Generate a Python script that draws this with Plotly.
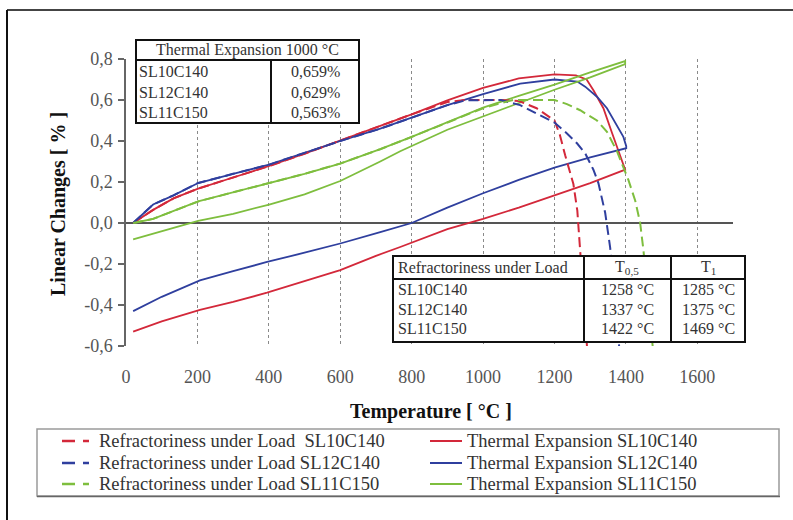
import plotly.graph_objects as go

# ---------------- data ----------------
# Thermal expansion SL10C140 (heating then cooling)
te10_heat_t = [20, 76, 133, 202, 300, 401, 500, 600, 712, 800, 900, 1000, 1100, 1200, 1260, 1290, 1310, 1337, 1361, 1384, 1398]
te10_heat_v = [0.0, 0.064, 0.12, 0.168, 0.222, 0.278, 0.338, 0.402, 0.47, 0.53, 0.598, 0.659, 0.705, 0.725, 0.72, 0.70, 0.645, 0.56, 0.44, 0.33, 0.26]
te10_cool_t = [1398, 1300, 1200, 1100, 1000, 900, 768, 700, 600, 500, 395, 300, 207, 100, 20]
te10_cool_v = [0.26, 0.195, 0.135, 0.075, 0.02, -0.03, -0.117, -0.16, -0.23, -0.285, -0.34, -0.385, -0.424, -0.48, -0.53]

# Thermal expansion SL12C140
te12_heat_t = [20, 76, 133, 202, 300, 401, 500, 600, 712, 800, 900, 1000, 1104, 1200, 1264, 1286, 1319, 1347, 1375, 1393, 1401]
te12_heat_v = [0.0, 0.09, 0.135, 0.195, 0.24, 0.285, 0.342, 0.40, 0.46, 0.515, 0.575, 0.629, 0.68, 0.70, 0.69, 0.665, 0.616, 0.56, 0.478, 0.42, 0.375]
te12_cool_t = [1401, 1300, 1200, 1100, 1000, 900, 800, 712, 600, 500, 395, 300, 207, 100, 20]
te12_cool_v = [0.365, 0.32, 0.27, 0.21, 0.145, 0.075, 0.0, -0.045, -0.10, -0.145, -0.19, -0.235, -0.28, -0.36, -0.43]

# Thermal expansion SL11C150
te11_heat_t = [20, 76, 202, 300, 401, 500, 600, 712, 800, 900, 1000, 1100, 1200, 1300, 1398]
te11_heat_v = [0.0, 0.02, 0.105, 0.15, 0.195, 0.24, 0.29, 0.36, 0.42, 0.49, 0.563, 0.62, 0.675, 0.735, 0.79]
te11_cool_t = [1398, 1300, 1200, 1100, 1000, 900, 768, 712, 600, 500, 401, 300, 202, 100, 20]
te11_cool_v = [0.775, 0.71, 0.65, 0.585, 0.52, 0.455, 0.35, 0.30, 0.205, 0.14, 0.09, 0.045, 0.01, -0.04, -0.08]

# Refractoriness under load
rul10_t = [20, 76, 133, 202, 300, 401, 500, 600, 712, 800, 900, 950, 1000, 1050, 1100, 1150, 1200, 1215, 1230, 1253, 1264, 1272, 1282, 1291]
rul10_v = [0.0, 0.064, 0.12, 0.168, 0.222, 0.278, 0.338, 0.402, 0.47, 0.53, 0.59, 0.60, 0.60, 0.60, 0.595, 0.56, 0.50, 0.43, 0.33, 0.19, 0.06, -0.14, -0.37, -0.60]
rul12_t = [20, 76, 133, 202, 300, 401, 500, 600, 712, 800, 900, 950, 1000, 1050, 1104, 1151, 1200, 1235, 1263, 1286, 1309, 1323, 1342, 1356, 1368, 1381]
rul12_v = [0.0, 0.09, 0.135, 0.195, 0.24, 0.285, 0.342, 0.40, 0.46, 0.515, 0.575, 0.598, 0.60, 0.60, 0.575, 0.535, 0.49, 0.437, 0.389, 0.34, 0.26, 0.195, 0.05, -0.12, -0.35, -0.60]
rul11_t = [20, 76, 202, 300, 401, 500, 600, 712, 800, 900, 1000, 1050, 1085, 1150, 1200, 1235, 1272, 1319, 1347, 1375, 1393, 1407, 1426, 1440, 1449, 1462, 1475]
rul11_v = [0.0, 0.02, 0.105, 0.15, 0.195, 0.24, 0.29, 0.36, 0.42, 0.49, 0.56, 0.585, 0.60, 0.60, 0.60, 0.58, 0.55, 0.50, 0.445, 0.35, 0.27, 0.21, 0.11, 0.0, -0.13, -0.35, -0.60]

x_ticks = [0, 200, 400, 600, 800, 1000, 1200, 1400, 1600]
y_ticks = [-0.6, -0.4, -0.2, 0.0, 0.2, 0.4, 0.6, 0.8]
y_ticktext = ["-0,6", "-0,4", "-0,2", "0,0", "0,2", "0,4", "0,6", "0,8"]

rul_names = ["Refractoriness under Load  SL10C140", "Refractoriness under Load SL12C140", "Refractoriness under Load SL11C150"]
te_names = ["Thermal Expansion SL10C140", "Thermal Expansion SL12C140", "Thermal Expansion SL11C150"]

table1_title = "Thermal Expansion 1000 °C"
table1_samples = ["SL10C140", "SL12C140", "SL11C150"]
table1_values = ["0,659%", "0,629%", "0,563%"]

table2_header = ["Refractoriness under Load", "T<sub>0,5</sub>", "T<sub>1</sub>"]
table2_samples = ["SL10C140", "SL12C140", "SL11C150"]
table2_t05 = ["1258 °C", "1337 °C", "1422 °C"]
table2_t1 = ["1285 °C", "1375 °C", "1469 °C"]

# ---------------- style ----------------
RED = "#D3283A"
BLUE = "#2F3F9E"
GREEN = "#7EBE3E"
COLORS = [RED, BLUE, GREEN]
SERIF = "Liberation Serif"
TXT = "#333333"

W, H = 793, 520
ML, MR, MT, MB = 126, 60, 59, 174
PW = W - ML - MR
PH = H - MT - MB


def px(x):
    return (x - ML) / PW


def py(y):
    return (H - MB - y) / PH


fig = go.Figure()

rul_sets = [(rul10_t, rul10_v), (rul12_t, rul12_v), (rul11_t, rul11_v)]
te_sets = [
    (te10_heat_t + te10_cool_t, te10_heat_v + te10_cool_v),
    (te12_heat_t + te12_cool_t, te12_heat_v + te12_cool_v),
    (te11_heat_t + te11_cool_t, te11_heat_v + te11_cool_v),
]

for (t, v), c, name in zip(te_sets, COLORS, te_names):
    fig.add_trace(go.Scatter(x=t, y=v, mode="lines", name=name, showlegend=False,
                             line=dict(color=c, width=1.8)))
for (t, v), c, name in zip(rul_sets, COLORS, rul_names):
    fig.add_trace(go.Scatter(x=t, y=v, mode="lines", name=name, showlegend=False,
                             line=dict(color=c, width=2, dash="10px,5px")))

shapes = []
annotations = []


def pline(x0, y0, x1, y1, color, width, dash="solid", layer="above"):
    shapes.append(dict(type="line", xref="paper", yref="paper", x0=px(x0), x1=px(x1), y0=py(y0), y1=py(y1),
                       line=dict(color=color, width=width, dash=dash), layer=layer))


def ptext(x, y, text, anchor="left", size=16, color=TXT, **kw):
    annotations.append(dict(xref="paper", yref="paper", x=px(x), y=py(y), text=text, showarrow=False,
                            xanchor=anchor, yanchor="middle", font=dict(family=SERIF, size=size, color=color), **kw))


# outer frame
pline(7, 10, 800, 10, "#444", 2)
pline(7, 10, 7, 530, "#111", 2)

# legend box (custom, two columns)
shapes.append(dict(type="rect", xref="paper", yref="paper", x0=px(37), x1=px(779), y0=py(429), y1=py(496),
                   line=dict(color="#9a9a9a", width=1.5), fillcolor="rgba(0,0,0,0)"))
pline(37, 496.5, 780, 496.5, "#666", 1.5)
leg_rows = [441, 463, 484]
for i in range(3):
    yy = leg_rows[i]
    pline(62, yy, 89, yy, COLORS[i], 2.5, dash="13px,8px")
    ptext(97, yy, rul_names[i], size=18.5)
    pline(430, yy, 462, yy, COLORS[i], 2)
    ptext(465, yy, te_names[i], size=18.5)

# table 1
shapes.append(dict(type="rect", xref="paper", yref="paper", x0=px(136), x1=px(359), y0=py(40), y1=py(123),
                   line=dict(color="#111", width=2), fillcolor="white", layer="above"))
pline(136, 60, 359, 60, "#111", 2)
pline(271, 60, 271, 123, "#111", 2)
ptext(247.5, 50, table1_title, anchor="center")
for i, (s, val) in enumerate(zip(table1_samples, table1_values)):
    yy = [72, 92, 112][i]
    ptext(137, yy, s)
    ptext(315, yy, val, anchor="center")

# table 2
shapes.append(dict(type="rect", xref="paper", yref="paper", x0=px(393), x1=px(745), y0=py(256), y1=py(342),
                   line=dict(color="#111", width=2), fillcolor="white", layer="above"))
pline(393, 279, 745, 279, "#111", 2)
for xd in (584, 671):
    pline(xd, 256, xd, 342, "#111", 2)
hdr_x = [(396, "left"), (627, "center"), (708, "center")]
for (xx, anc), txt in zip(hdr_x, table2_header):
    ptext(xx, 267, txt, anchor=anc)
for i in range(3):
    yy = [289, 309, 328][i]
    for (xx, anc), txt in zip(hdr_x, [table2_samples[i], table2_t05[i], table2_t1[i]]):
        ptext(xx, yy, txt, anchor=anc)

# axis titles
ptext(431, 411, "<b>Temperature [ °C ]</b>", anchor="center", size=20, color="#111")
ptext(58, 204, "<b>Linear Changes [ % ]</b>", anchor="center", size=20, color="#111", textangle=-90)

fig.update_layout(
    width=W, height=H,
    margin=dict(l=ML, r=MR, t=MT, b=MB, pad=0),
    paper_bgcolor="white", plot_bgcolor="white",
    showlegend=False,
    xaxis=dict(range=[0, 1700], tickmode="array", tickvals=x_ticks, ticktext=[str(v) for v in x_ticks],
               showgrid=True, gridcolor="#8a8a8a", gridwidth=1, griddash="dot",
               zeroline=False, showline=False, ticks="", ticklabelstandoff=18,
               tickfont=dict(family=SERIF, size=18, color="#555")),
    yaxis=dict(range=[-0.6, 0.8], tickmode="array", tickvals=y_ticks, ticktext=y_ticktext,
               showgrid=False, zeroline=True, zerolinecolor="#555", zerolinewidth=1.5,
               showline=True, linecolor="#666", linewidth=1.5, ticks="outside", ticklen=6,
               tickcolor="#666", tickwidth=1.5, ticklabelstandoff=2,
               tickfont=dict(family=SERIF, size=18, color="#555")),
    yaxis2=dict(range=[-0.6, 0.8], overlaying="y", tickmode="array",
                tickvals=[-0.4, -0.2, 0.2, 0.4, 0.6, 0.8], showticklabels=False,
                showgrid=True, gridcolor="#8a8a8a", gridwidth=1, griddash="dot",
                zeroline=False, showline=False, ticks=""),
    shapes=shapes,
    annotations=annotations,
)

fig.write_html("out.html")
